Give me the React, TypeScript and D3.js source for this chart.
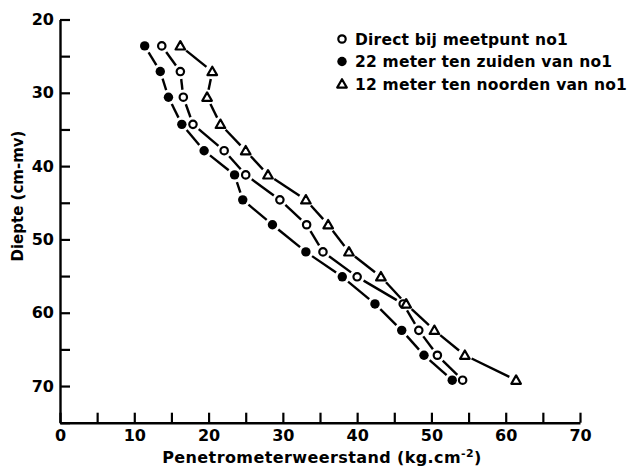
import React, { useEffect, useRef } from "react";
import * as d3 from "d3";

// depth (cm below surface) of each measurement
const depths = [23.6, 27.1, 30.6, 34.3, 37.9, 41.2, 44.6, 48.0, 51.7, 55.1, 58.8, 62.4, 65.8, 69.2];
// penetrometer resistance (kg.cm-2)
const direct = [13.7, 16.2, 16.6, 17.9, 22.1, 25.0, 29.6, 33.2, 35.4, 40.0, 46.2, 48.3, 50.8, 54.2];
const zuiden = [11.4, 13.5, 14.6, 16.4, 19.4, 23.5, 24.6, 28.6, 33.1, 38.0, 42.4, 46.0, 49.0, 52.8];
const noorden = [16.2, 20.5, 19.8, 21.6, 25.0, 28.0, 33.1, 36.1, 38.9, 43.2, 46.6, 50.4, 54.5, 61.4];

const seriesNames = [
  "Direct bij meetpunt no1",
  "22 meter ten zuiden van no1",
  "12 meter ten noorden van no1",
];
const markers = ["open", "filled", "triangle"];

const xTicks = [0, 5, 10, 15, 20, 25, 30, 35, 40, 45, 50, 55, 60, 65, 70];
const yTicks = [20, 25, 30, 35, 40, 45, 50, 55, 60, 65, 70, 75];

const W = 629;
const H = 468;
const FONT = "'DejaVu Sans', sans-serif";

const drawMarker = (g, kind, x, y) => {
  if (kind === "open") {
    g.append("circle").attr("cx", x).attr("cy", y).attr("r", 3.7)
      .attr("fill", "#fff").attr("stroke", "#000").attr("stroke-width", 2.2);
  } else if (kind === "filled") {
    g.append("circle").attr("cx", x).attr("cy", y).attr("r", 4.7).attr("fill", "#000");
  } else {
    const s = 4.8;
    g.append("path")
      .attr("d", `M${x},${y - s}L${x + s},${y + s * 0.75}L${x - s},${y + s * 0.75}Z`)
      .attr("fill", "#fff").attr("stroke", "#000").attr("stroke-width", 2.2)
      .attr("stroke-linejoin", "round");
  }
};

export default function App() {
  const svgRef = useRef(null);

  useEffect(() => {
    const svg = d3.select(svgRef.current);
    svg.selectAll("*").remove();

    const x = d3.scaleLinear().domain([0, 70]).range([60, 580]);
    const y = d3.scaleLinear().domain([20, 75]).range([19.5, 422.7]);

    // axes
    const xAxis = d3.axisBottom(x).tickValues(xTicks).tickSizeInner(-10).tickSizeOuter(0)
      .tickPadding(5).tickFormat((d) => (d % 10 === 0 ? String(d) : ""));
    const gx = svg.append("g").attr("transform", `translate(0,${y(75)})`).call(xAxis);
    const yAxis = d3.axisLeft(y).tickValues(yTicks).tickSizeInner(-10).tickSizeOuter(0)
      .tickPadding(6).tickFormat((d) => (d % 10 === 0 && d < 75 ? String(d) : ""));
    const gy = svg.append("g").attr("transform", `translate(${x(0)},0)`).call(yAxis);

    [gx, gy].forEach((g) => {
      g.select(".domain").attr("stroke", "#000").attr("stroke-width", 2.4);
      g.selectAll(".tick line").attr("stroke", "#000").attr("stroke-width", 2.2);
      g.selectAll(".tick text").attr("fill", "#000")
        .attr("font-family", FONT).attr("font-weight", "bold").attr("font-size", 16);
    });
    gx.selectAll(".tick text").attr("dy", "0.85em");

    // series
    const all = [direct, zuiden, noorden];
    all.forEach((vals, si) => {
      const g = svg.append("g");
      const pts = vals.map((v, i) => [x(v), y(depths[i])]);
      const gap = 7.5;
      for (let i = 0; i < pts.length - 1; i++) {
        const [x1, y1] = pts[i];
        const [x2, y2] = pts[i + 1];
        const len = Math.hypot(x2 - x1, y2 - y1);
        if (len <= gap * 2) continue;
        const ux = (x2 - x1) / len;
        const uy = (y2 - y1) / len;
        g.append("line")
          .attr("x1", x1 + ux * gap).attr("y1", y1 + uy * gap)
          .attr("x2", x2 - ux * gap).attr("y2", y2 - uy * gap)
          .attr("stroke", "#000").attr("stroke-width", 2.4);
      }
      pts.forEach(([px, py]) => drawMarker(g, markers[si], px, py));
    });

    // legend
    const lg = svg.append("g");
    seriesNames.forEach((name, i) => {
      const ly = 39 + i * 22.5;
      drawMarker(lg, markers[i], 342, ly);
      lg.append("text").attr("x", 355).attr("y", ly + 5.5)
        .attr("font-family", FONT).attr("font-weight", "bold").attr("font-size", 15.5)
        .attr("letter-spacing", 0.2)
        .text(name);
    });

    // axis titles
    const xt = svg.append("text").attr("x", 322).attr("y", 463).attr("text-anchor", "middle")
      .attr("font-family", FONT).attr("font-weight", "bold").attr("font-size", 16)
      .attr("letter-spacing", 0.4);
    xt.append("tspan").text("Penetrometerweerstand (kg.cm");
    xt.append("tspan").attr("font-size", 11).attr("dy", -6).text("-2");
    xt.append("tspan").attr("dy", 6).text(")");

    svg.append("text")
      .attr("transform", `translate(23,196) rotate(-90)`)
      .attr("text-anchor", "middle")
      .attr("font-family", FONT).attr("font-weight", "bold").attr("font-size", 15)
      .text("Diepte (cm-mv)");
  }, []);

  return (
    <svg
      ref={svgRef}
      width={W}
      height={H}
      style={{ position: "absolute", left: 0, top: 0, background: "#fff" }}
    />
  );
}
